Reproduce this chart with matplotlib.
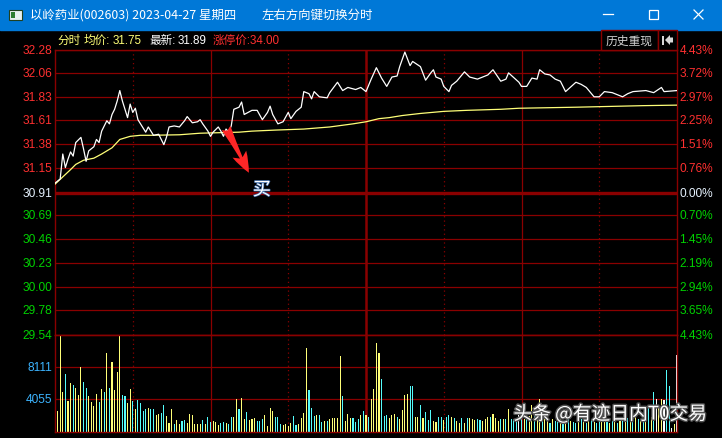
import numpy as np
import matplotlib
matplotlib.use("Agg")
import matplotlib.pyplot as plt
import matplotlib.patheffects as pe
from matplotlib.patches import Rectangle, Polygon

plt.rcParams['font.family'] = ['Noto Sans CJK SC', 'DejaVu Sans']
NUMFONT = ['Liberation Sans', 'Noto Sans CJK SC']

W, H = 722, 439

# 分时价格 (分钟, 价格)
price_min = [0, 2, 3, 4, 5, 6, 7, 8, 10, 11, 12, 13, 15, 16, 17, 18, 20, 21, 22, 23,
             24, 25, 26, 28, 29, 30, 31, 32, 33, 35, 36, 38, 40, 42, 43, 44, 46, 48, 50, 51,
             53, 55, 56, 57, 59, 60, 61, 63, 64, 65, 66, 67, 68, 69, 71, 72, 73, 76, 78, 80,
             82, 83, 84, 86, 88, 90, 91, 93, 95, 96, 98, 99, 100, 102, 105, 106, 109, 111, 113, 116,
             118, 120, 122, 124, 126, 128, 130, 132, 133, 135, 137, 138, 141, 143, 145, 146, 147, 149, 150, 152,
             153, 155, 158, 160, 163, 167, 169, 172, 174, 175, 179, 180, 182, 184, 186, 187, 189, 191, 193, 195,
             197, 201, 203, 205, 208, 210, 212, 215, 219, 221, 223, 228, 231, 234, 235, 240]
price_val = [31.00, 31.04, 31.28, 31.15, 31.23, 31.30, 31.26, 31.39, 31.44, 31.33, 31.21, 31.31, 31.35, 31.42, 31.39, 31.50, 31.60, 31.57, 31.66, 31.71,
             31.79, 31.89, 31.79, 31.63, 31.76, 31.68, 31.72, 31.61, 31.57, 31.49, 31.54, 31.46, 31.47, 31.37, 31.44, 31.54, 31.55, 31.54, 31.60, 31.64,
             31.58, 31.59, 31.61, 31.57, 31.50, 31.45, 31.49, 31.54, 31.50, 31.45, 31.52, 31.49, 31.55, 31.71, 31.73, 31.78, 31.66, 31.70, 31.70, 31.61,
             31.68, 31.74, 31.66, 31.57, 31.59, 31.68, 31.62, 31.69, 31.73, 31.88, 31.86, 31.81, 31.88, 31.83, 31.82, 31.87, 31.97, 31.89, 31.92, 31.90,
             31.92, 31.88, 32.00, 32.11, 32.01, 31.93, 32.02, 32.03, 32.12, 32.26, 32.13, 32.17, 32.12, 31.99, 32.06, 32.09, 32.02, 32.00, 31.93, 31.88,
             31.94, 31.98, 32.07, 32.02, 32.00, 32.04, 32.09, 31.98, 32.00, 32.06, 31.97, 31.93, 31.93, 32.01, 32.00, 32.09, 32.05, 32.04, 32.00, 31.98,
             31.88, 31.97, 31.95, 31.92, 31.83, 31.83, 31.88, 31.87, 31.83, 31.86, 31.88, 31.89, 31.87, 31.92, 31.88, 31.89]

# 均价
avg_min = [0, 3, 6, 8, 11, 15, 18, 22, 25, 29, 33, 37, 48, 56, 71, 76, 85, 96, 106, 115,
           120, 125, 129, 134, 141, 150, 159, 172, 179, 201, 227, 240]
avg_val = [30.99, 31.06, 31.13, 31.18, 31.22, 31.24, 31.28, 31.34, 31.42, 31.45, 31.46, 31.46, 31.465, 31.48, 31.49, 31.50, 31.51, 31.52, 31.54, 31.57,
           31.59, 31.62, 31.63, 31.65, 31.67, 31.69, 31.70, 31.71, 31.72, 31.73, 31.745, 31.75]

# 成交量 (手) 与涨跌方向 1 涨 / -1 跌 / 0 平
volume = [2570, 12070, 4980, 7220, 3840, 6080, 5830, 5450, 4560, 8150,
          6250, 5450, 4470, 3710, 3210, 4690, 3710, 5320, 4980, 9920,
          5450, 8780, 5230, 7510, 12070, 4560, 4470, 3550, 5320, 3840,
          2870, 3930, 3550, 2570, 2790, 3000, 2870, 2870, 2030, 2150,
          2370, 3290, 1940, 1010, 2790, 890, 1430, 890, 1310, 1430,
          1010, 2150, 2030, 890, 890, 890, 1430, 890, 1810, 1180,
          1310, 1180, 760, 1100, 1180, 1010, 890, 1810, 1810, 4050,
          2790, 4270, 1610, 2450, 1430, 1610, 1690, 1310, 1310, 1520,
          2030, 680, 3000, 2570, 1810, 1810, 890, 760, 890, 680,
          1010, 1940, 760, 890, 1650, 2370, 10480, 5230, 2910, 1940,
          2030, 2030, 1180, 1310, 1310, 1520, 1690, 1690, 1730, 9540,
          4470, 1310, 2150, 1730, 1650, 1180, 1520, 2030,
          2570, 2030, 1860, 4160, 5300, 11220, 9880, 6590, 1940, 2030,
          1690, 2030, 2150, 1860, 1600, 2700, 4560, 4690, 5700, 5700,
          1860, 1860, 3290, 1690, 2450, 1430, 2700, 1310, 1180, 1860,
          1860, 1430, 1860, 2030, 1860, 1690, 1310, 1010, 1690, 1100,
          1690, 1730, 1520, 1430, 1600, 1430, 1310, 1600, 1860, 1860,
          2240, 1690, 1270, 1520, 1600, 1520, 2870, 1520, 1520, 1690, 2150,
          1600, 1520, 1730, 1940, 3380, 1940, 1520, 4050, 1730, 1520,
          1310, 1100, 1520, 1310, 1180, 1520, 1310, 1100, 1520, 1310,
          1180, 1010, 1310, 1520, 1180, 1100, 1310, 1520, 1180, 1100,
          1310, 1520, 1180, 1310, 1010, 1310, 1520, 1100, 1310, 1520,
          1310, 1730, 1520, 1310, 1940, 1520, 1310, 1730, 1520, 3290,
          1860, 4980, 4050, 3290, 4050, 3970, 7770, 5700, 440, 900, 9630]
direction = [1, 1, 1, -1, 1, 1, -1, 1, 1, 1,
             -1, -1, 1, 1, 1, 1, -1, 1, -1, 1,
             -1, 1, 1, 1, 1, -1, -1, 1, 1, -1,
             1, -1, -1, -1, -1, 1, -1, -1, 1, 1,
             -1, -1, 1, 1, 1, -1, 1, 1, -1, -1,
             1, 1, 1, 1, 1, 1, -1, 1, -1, -1,
             1, 1, 1, -1, -1, 1, -1, -1, 1, 1,
             -1, 1, 1, -1, 1, 1, 1, -1, -1, -1,
             1, 1, 1, 1, -1, -1, -1, 1, 1, 1,
             1, -1, -1, 1, 1, 1, 1, -1, -1, -1,
             1, -1, -1, 1, -1, 1, 1, 1, 1, 1,
             -1, 1, 1, 1, -1, -1, -1, 1,
             -1, 1, -1, 1, 1, 1, 1, -1, -1, -1,
             1, 1, 1, -1, 1, 1, 1, 1, -1, -1,
             1, 1, -1, 1, -1, -1, -1, 1, 1, -1,
             -1, 1, -1, -1, 1, -1, 1, 1, -1, 1,
             -1, 1, 1, 1, -1, -1, 1, 1, 1, -1,
             1, 1, 1, -1, 1, -1, 1, -1, -1, -1, 0,
             -1, 1, -1, 1, 1, -1, 1, 1, -1, 1,
             1, -1, 1, -1, -1, 1, -1, 1, -1, 1,
             -1, -1, 1, -1, 1, -1, 1, -1, 1, -1,
             -1, 1, 1, -1, 1, -1, 1, -1, 1, -1,
             1, -1, 1, -1, 1, -1, 1, -1, 1, -1,
             1, -1, 0, 1, 1, 0, -1, -1, 0, 1, 0]

price_ticks = [32.28, 32.06, 31.83, 31.61, 31.38, 31.15, 30.91, 30.69, 30.46, 30.23, 30.00, 29.78, 29.54]
pct_ticks = ["4.43%", "3.72%", "2.97%", "2.25%", "1.51%", "0.76%", "0.00%",
             "0.70%", "1.45%", "2.19%", "2.94%", "3.65%", "4.43%"]
pre_close = 30.91
vol_ticks = [4055, 8111]
vol_top = 12166

RED = '#FF3030'
GREEN = '#00D200'
DARKRED = '#8A0000'
YEL = '#FFFF78'
CYAN = '#54FCFC'


def fx(x):
    return x / W


def fy(y):
    return 1 - y / H


fig = plt.figure(figsize=(W / 100, H / 100), dpi=100, facecolor='black')

# 标题栏
fig.patches.append(Rectangle((0, fy(31)), 1, 31 / H, transform=fig.transFigure,
                             color='#0078D7', zorder=0))
fig.patches.append(Rectangle((fx(9), fy(21)), 13 / W, 10 / H, transform=fig.transFigure,
                             facecolor='#E8F0F0', edgecolor='#204020', lw=0.8))
fig.patches.append(Rectangle((fx(11), fy(19)), 4 / W, 6 / H, transform=fig.transFigure,
                             facecolor='#2E7D32', lw=0))
fig.text(fx(30), fy(15.5), "以岭药业(002603) 2023-04-27 星期四", color='white',
         fontsize=8.95, va='center', ha='left')
fig.text(fx(262), fy(15.5), "左右方向键切换分时", color='white', fontsize=8.95, va='center')
fig.lines.append(plt.Line2D([fx(603), fx(613)], [fy(15), fy(15)], transform=fig.transFigure,
                            color='white', lw=0.9))
fig.patches.append(Rectangle((fx(648.5), fy(20)), 9.5 / W, 9.5 / H, transform=fig.transFigure,
                             facecolor='none', edgecolor='white', lw=0.9))
fig.lines.append(plt.Line2D([fx(694), fx(703)], [fy(11), fy(20)], transform=fig.transFigure,
                            color='white', lw=0.9))
fig.lines.append(plt.Line2D([fx(694), fx(703)], [fy(20), fy(11)], transform=fig.transFigure,
                            color='white', lw=0.9))

# 信息行
info = [("分时", 57, YEL), ("均价:", 84, YEL), ("31.75", 113, YEL),
        ("最新:", 149, 'white'), ("31.89", 178, 'white'), ("涨停价:34.00", 213, RED)]
for txt, x, c in info:
    fig.text(fx(x), fy(41), txt, color=c, fontsize=8.4, va='center', family=NUMFONT)

# 历史重现按钮
fig.patches.append(Rectangle((fx(601), fy(50.5)), 57 / W, 19.5 / H, transform=fig.transFigure,
                             facecolor='black', edgecolor=DARKRED, lw=1))
fig.patches.append(Rectangle((fx(658), fy(50.5)), 19 / W, 19.5 / H, transform=fig.transFigure,
                             facecolor='black', edgecolor=DARKRED, lw=1))
fig.text(fx(629.5), fy(41), "历史重现", color='#D0D0D0', fontsize=8.5, ha='center', va='center')
fig.patches.append(Rectangle((fx(662), fy(45.5)), 2 / W, 9 / H, transform=fig.transFigure,
                             facecolor='#D8D8D8', lw=0))
fig.patches.append(Polygon([(fx(665), fy(41)), (fx(670), fy(36)), (fx(670), fy(38.5)),
                            (fx(673), fy(38.5)), (fx(673), fy(43.5)), (fx(670), fy(43.5)),
                            (fx(670), fy(46))], closed=True, transform=fig.transFigure,
                           facecolor='#D8D8D8', lw=0))

L, R = 55, 677
ax = fig.add_axes([fx(L), fy(336), (R - L) / W, (336 - 51) / H])
axv = fig.add_axes([fx(L), fy(432.5), (R - L) / W, (432.5 - 336) / H])

for a in (ax, axv):
    a.set_facecolor('black')
    a.set_xlim(0, 240)
    a.set_xticks([])
    a.set_yticks([])
    for s in a.spines.values():
        s.set_color(DARKRED)
        s.set_linewidth(1)
    for m in (30, 90, 150, 210):
        a.axvline(m, color=DARKRED, lw=0.9, ls=(0, (1, 2.5)), zorder=1)
    for m in (60, 180):
        a.axvline(m, color=DARKRED, lw=0.9, zorder=1)
    a.axvline(120, color=DARKRED, lw=1.8, zorder=1)

ax.set_ylim(price_ticks[-1], price_ticks[0])
for p in price_ticks:
    ax.axhline(p, color=DARKRED, lw=2.4 if p == pre_close else 0.9, zorder=1)

ytr = ax.get_yaxis_transform()
for p, pct in zip(price_ticks, pct_ticks):
    if p > pre_close:
        c = RED
    elif p < pre_close:
        c = GREEN
    else:
        c = '#E6F2FF'
    ax.text(-0.005, p, f"{p:.2f}", transform=ytr, ha='right', va='center',
            color=c, fontsize=8.6, family=NUMFONT, clip_on=False)
    ax.text(1.004, p, pct, transform=ytr, ha='left', va='center',
            color=c, fontsize=8.6, family=NUMFONT, clip_on=False)

ax.plot(avg_min, avg_val, color=YEL, lw=0.9, zorder=3)
ax.plot(price_min, price_val, color='white', lw=0.9, zorder=4)

# 买点箭头
ax.annotate('', xy=(74.8, 31.10), xytext=(66.0, 31.53),
            arrowprops=dict(arrowstyle='fancy,head_width=0.55,head_length=0.75,tail_width=0.35',
                            mutation_scale=20, color='#FF2626', lw=0,
                            shrinkA=0, shrinkB=0), zorder=5)
ax.text(79.8, 30.935, "买", color='white', fontsize=13, ha='center', va='center', zorder=6,
        path_effects=[pe.withStroke(linewidth=1.0, foreground='#4070B0')])

# 成交量
axv.set_ylim(0, vol_top)
for v in vol_ticks:
    axv.axhline(v, color=DARKRED, lw=0.9, zorder=1)
axv.axhline(vol_top, color=DARKRED, lw=1.6, zorder=1)
cmap = {1: YEL, -1: CYAN, 0: 'white'}
bar_x = np.arange(1, len(volume) + 1)
axv.bar(bar_x, volume, width=0.42, color=[cmap[d] for d in direction], lw=0, zorder=2)
vtr = axv.get_yaxis_transform()
for v in vol_ticks:
    axv.text(-0.005, v, str(v), transform=vtr, ha='right', va='center',
             color='#3CB4FF', fontsize=8.6, family=NUMFONT, clip_on=False)

# 水印
fig.text(fx(707), fy(415), "头条 @有迹日内T0交易", color='white', fontsize=13.5,
         va='center', ha='right', zorder=10,
         path_effects=[pe.withStroke(linewidth=2, foreground='#505050')])

fig.savefig("out.png", dpi=100, facecolor='black')
